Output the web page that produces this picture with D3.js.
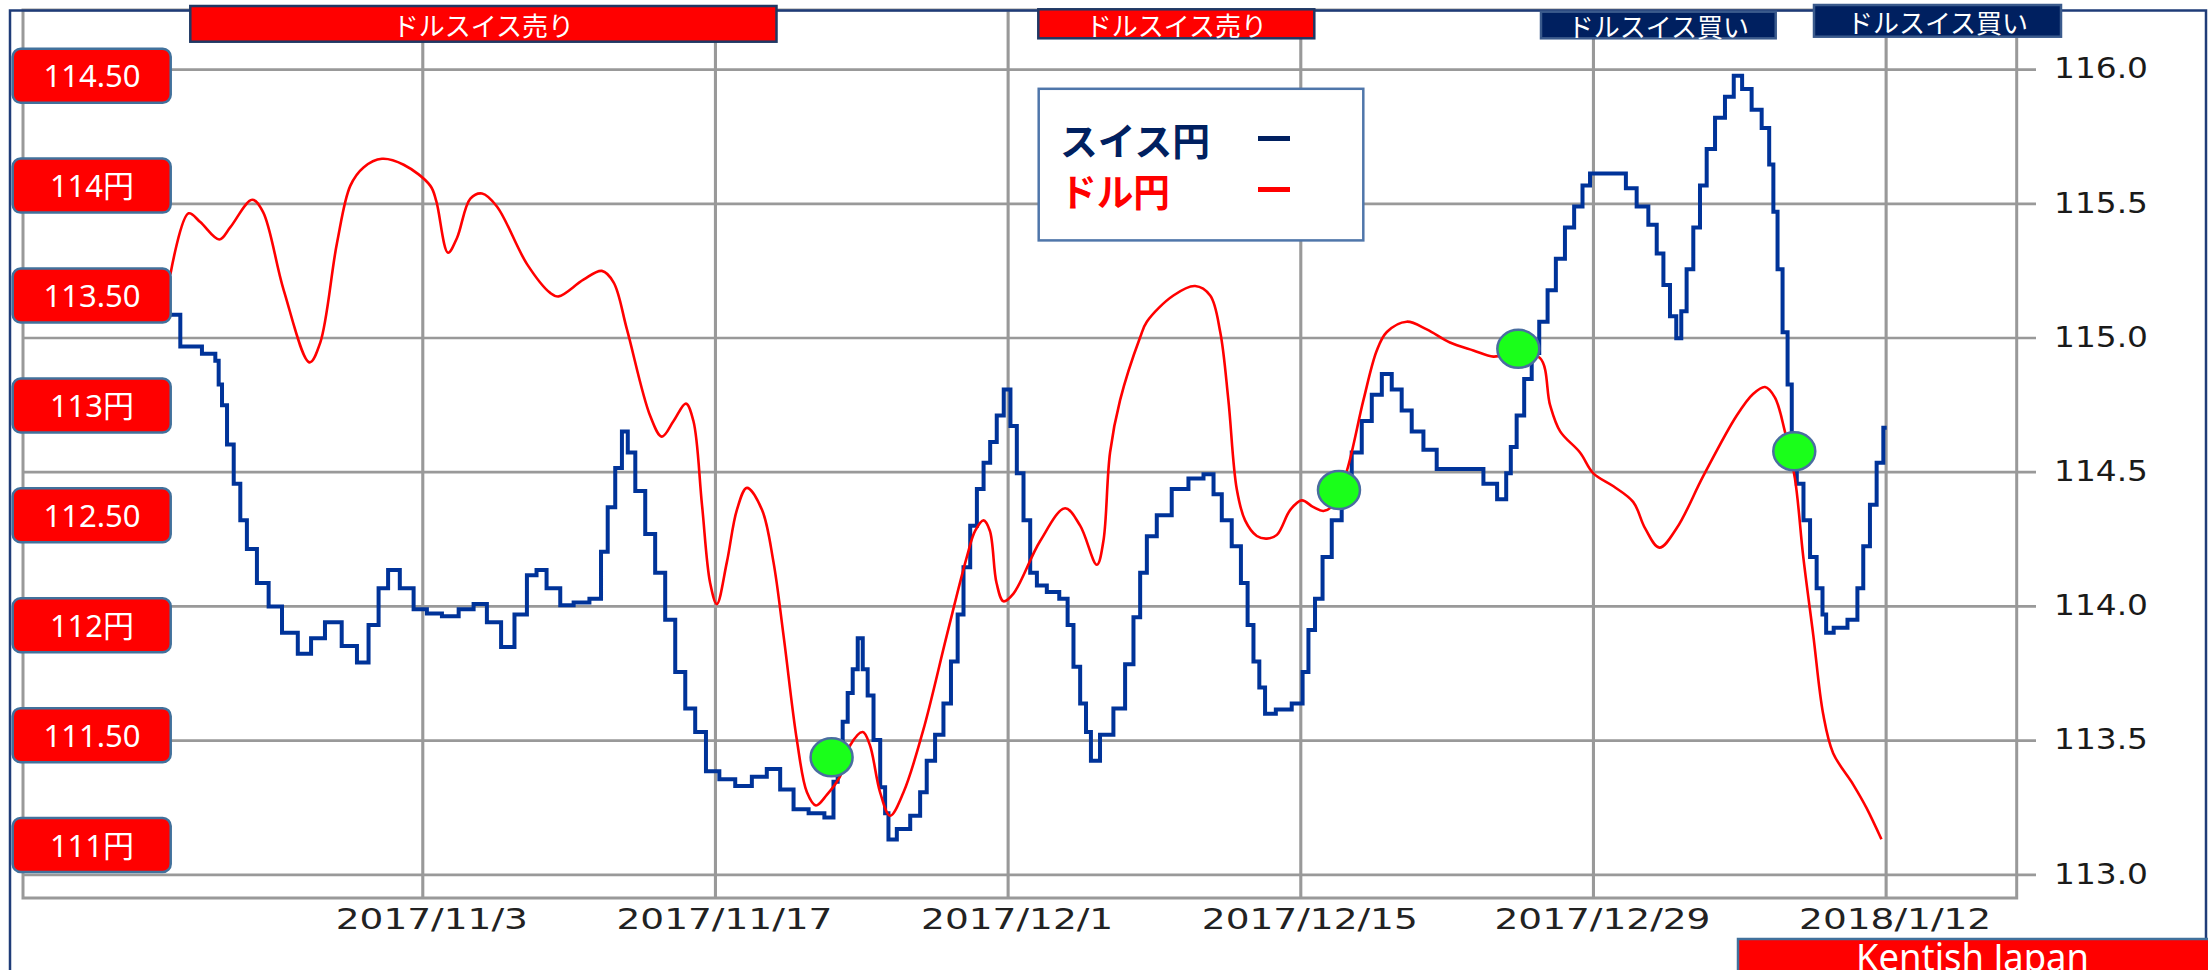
<!DOCTYPE html>
<html><head><meta charset="utf-8">
<script src="https://cdn.jsdelivr.net/npm/d3@7"></script>
<style>html,body{margin:0;padding:0;background:#fff;} svg{display:block}</style>
</head><body><svg id="c" width="2208" height="970"></svg>
<script>
// ---- data (days relative to 2017/11/3) ----
const chfDays = [-12.05,-11.10,-9.98,-9.82,-9.66,-9.50,-9.18,-8.86,-8.55,-8.23,
-7.59,-7.11,-6.31,-5.60,-5.04,-4.27,-3.44,-2.81,-2.33,-1.85,
-1.42,-0.73,-0.10,0.54,1.34,2.14,2.77,3.41,4.13,4.69,
5.32,5.61,6.28,6.92,7.56,8.43,8.67,9.07,9.39,9.71,
9.95,10.43,10.90,11.38,11.86,12.34,12.82,13.29,13.85,14.57,
15.37,16.16,16.80,17.44,18.08,18.88,19.59,19.75,19.99,20.23,
20.47,20.71,20.95,21.19,21.42,21.75,22.06,22.22,22.38,23.02,
23.66,23.97,24.29,24.77,25.09,25.49,25.73,26.05,26.37,26.69,
27.01,27.32,27.64,27.99,28.28,28.60,28.92,29.24,29.56,30.19,
30.75,30.99,31.31,31.63,31.87,32.10,32.74,33.38,33.86,34.18,
34.50,34.82,35.45,36.25,37.05,37.69,38.01,38.48,38.96,39.36,
39.60,39.92,40.16,40.47,41.19,41.99,42.23,42.55,42.86,43.27,
43.74,44.22,44.70,45.18,45.66,46.14,46.61,47.09,47.57,48.21,
48.84,50.44,51.08,51.75,51.95,52.19,52.51,52.91,53.23,53.63,
54.03,54.42,54.90,55.30,55.70,56.02,57.38,57.77,58.41,58.89,
59.21,59.53,59.84,60.13,60.32,60.64,60.96,61.28,61.60,62.08,
62.55,62.92,63.35,63.83,64.31,64.55,64.71,64.95,65.19,65.43,
65.59,65.91,66.23,66.54,66.86,67.10,67.21,67.82,68.53,68.77,
69.09,69.41,69.73,70.05];
const chfValues = [115.085,114.966,114.939,114.913,114.825,114.748,114.601,114.455,114.319,114.212,
114.085,113.998,113.900,113.822,113.880,113.939,113.851,113.789,113.929,114.066,
114.134,114.066,113.988,113.972,113.962,113.988,114.007,113.939,113.847,113.968,
114.114,114.134,114.066,114.003,114.013,114.027,114.202,114.368,114.514,114.650,
114.572,114.428,114.268,114.124,113.949,113.754,113.618,113.530,113.384,113.354,
113.329,113.364,113.393,113.316,113.243,113.228,113.212,113.345,113.423,113.569,
113.676,113.764,113.880,113.764,113.666,113.501,113.325,113.228,113.130,113.169,
113.218,113.306,113.423,113.520,113.637,113.793,113.968,114.144,114.299,114.436,
114.533,114.611,114.709,114.806,114.670,114.494,114.319,114.124,114.076,114.052,
114.027,113.929,113.773,113.637,113.530,113.423,113.520,113.618,113.783,113.958,
114.124,114.260,114.338,114.436,114.475,114.491,114.416,114.319,114.222,114.085,
113.929,113.793,113.696,113.598,113.614,113.637,113.754,113.910,114.027,114.182,
114.319,114.475,114.572,114.689,114.787,114.864,114.806,114.728,114.650,114.582,
114.510,114.510,114.455,114.397,114.494,114.592,114.709,114.845,114.942,115.059,
115.176,115.293,115.410,115.488,115.566,115.611,115.611,115.556,115.488,115.420,
115.313,115.196,115.079,114.997,115.098,115.254,115.410,115.566,115.702,115.819,
115.897,115.975,115.926,115.848,115.780,115.644,115.468,115.254,115.020,114.825,
114.631,114.455,114.319,114.182,114.066,113.968,113.900,113.919,113.949,114.066,
114.222,114.377,114.533,114.664];

const usdDays = [-12.05,-11.18,-10.62,-9.71,-9.18,-8.14,-7.62,-6.63,-5.39,-4.88,
-4.08,-3.44,-2.81,-1.93,-0.89,0.38,0.67,1.23,1.66,2.30,
2.86,3.57,5.01,6.12,6.52,7.71,8.59,9.15,9.79,10.90,
11.46,12.02,12.61,12.97,13.38,13.77,14.09,14.57,15.05,15.53,
16.25,16.80,17.28,17.92,18.40,18.83,19.35,19.98,20.47,21.07,
21.41,21.90,22.38,23.02,23.97,25.09,26.05,26.45,26.85,27.15,
27.47,27.80,28.28,29.55,30.75,31.47,32.27,32.58,32.90,33.38,
34.34,34.66,35.93,36.97,37.69,38.17,38.56,38.96,39.36,39.92,
40.40,40.88,41.52,42.07,42.63,43.11,43.59,44.23,45.02,45.66,
46.14,47.09,48.05,49.16,50.28,51.24,52.19,53.47,53.95,54.43,
55.38,56.02,56.98,57.93,58.49,59.18,60.01,61.28,62.87,63.67,
64.23,64.70,65.18,65.66,66.06,66.54,67.01,67.49,68.45,69.09,
69.80];
const usdValues = [113.596,113.874,113.834,113.755,113.811,113.936,113.881,113.525,113.196,113.286,
113.739,114.000,114.083,114.122,114.095,114.000,113.929,113.695,113.762,113.941,
113.964,113.905,113.643,113.512,113.496,113.572,113.612,113.560,113.346,112.953,
112.858,112.929,113.008,112.929,112.548,112.192,112.096,112.287,112.525,112.625,
112.525,112.287,111.954,111.477,111.240,111.180,111.228,111.311,111.454,111.514,
111.455,111.240,111.133,111.240,111.525,111.954,112.311,112.430,112.477,112.430,
112.192,112.109,112.144,112.382,112.532,112.453,112.275,112.382,112.786,113.024,
113.310,113.381,113.500,113.543,113.500,113.334,113.024,112.620,112.477,112.406,
112.394,112.411,112.525,112.568,112.537,112.520,112.548,112.703,113.024,113.250,
113.334,113.381,113.346,113.286,113.250,113.222,113.239,113.215,113.001,112.882,
112.786,112.691,112.632,112.560,112.442,112.353,112.442,112.679,112.953,113.053,
113.084,113.037,112.882,112.668,112.311,111.954,111.597,111.418,111.275,111.168,
111.026];

const crossDays = [19.58, 43.85, 52.43, 65.63];
const crossValues = [113.436, 114.432, 114.958, 114.576];

const dayTicks = [0, 14, 28, 42, 56, 70];
const dateLabels = ["2017/11/3", "2017/11/17", "2017/12/1", "2017/12/15", "2017/12/29", "2018/1/12"];
const chfTicks = [113.0, 113.5, 114.0, 114.5, 115.0, 115.5, 116.0];
const usdTicks = [114.5, 114, 113.5, 113, 112.5, 112, 111.5, 111];
const usdLabels = ["114.50", "114円", "113.50", "113円", "112.50", "112円", "111.50", "111円"];
const legendNames = ["スイス円", "ドル円"];
const bannerTexts = ["ドルスイス売り", "ドルスイス売り", "ドルスイス買い", "ドルスイス買い"];
const bannerKinds = ["sell", "sell", "buy", "buy"];
const creditText = "Kentish Japan";

// ---- layout / style ----
const W = 2208, H = 970;
const X0 = 23, X1 = 2016.7, YT = 10, YB = 898;
const RED = "#ff0000", NAVY = "#002060", BLUE = "#003399", GRID = "#999999", STEEL = "#41719c";
const bannerBoxes = [[190.3, 6, 776.5, 41.7], [1038.3, 9.3, 1314.3, 38.3], [1541, 11.7, 1775.7, 38.3], [1814, 5, 2061, 36.7]];

const svg = d3.select("#c");
svg.append("rect").attr("width", W).attr("height", H).attr("fill", "#fff");

const x = d3.scaleLinear().domain([-19.10, 76.27]).range([X0, X1]);
const yR = d3.scaleLinear().domain([112.912, 116.22]).range([YB, YT]);
const yL = d3.scaleLinear().domain([110.759, 114.799]).range([YB, YT]);

// horizontal grid + right axis labels
const gr = svg.append("g").attr("transform", `translate(${X0},0)`)
  .call(d3.axisRight(yR).tickValues(chfTicks).tickSize(2036 - X0).tickPadding(18).tickFormat(d3.format(".1f")));
gr.select(".domain").remove();
gr.selectAll(".tick line").attr("stroke", GRID).attr("stroke-width", 2.7);
gr.selectAll(".tick text").attr("font-family", "DejaVu Sans").attr("font-size", 27.5)
  .attr("fill", "#1a1a1a").attr("textLength", 94).attr("lengthAdjust", "spacingAndGlyphs");

// vertical grid + date labels
const gx = svg.append("g").attr("transform", `translate(0,${YB})`)
  .call(d3.axisBottom(x).tickValues(dayTicks).tickSize(-(YB - YT)).tickPadding(11)
    .tickFormat(d => dateLabels[dayTicks.indexOf(d)]));
gx.select(".domain").remove();
gx.selectAll(".tick line").attr("stroke", GRID).attr("stroke-width", 3.1);
gx.selectAll(".tick text").attr("font-family", "DejaVu Sans").attr("font-size", 28.4)
  .attr("fill", "#222").attr("x", 9)
  .each(function () {
    const L = this.getComputedTextLength();
    d3.select(this).attr("textLength", L * 1.32).attr("lengthAdjust", "spacingAndGlyphs");
  });

// plot border
svg.append("rect").attr("x", X0).attr("y", YT).attr("width", X1 - X0).attr("height", YB - YT)
  .attr("fill", "none").attr("stroke", GRID).attr("stroke-width", 3);

// CHF/JPY (blue, stepped)
const chf = chfDays.map((d, i) => [d, chfValues[i]]);
svg.append("path").datum(chf)
  .attr("d", d3.line().x(d => x(d[0])).y(d => yR(d[1])).curve(d3.curveStep))
  .attr("fill", "none").attr("stroke", BLUE).attr("stroke-width", 4).attr("stroke-linejoin", "miter");

// USD/JPY (red, smooth)
const usd = usdDays.map((d, i) => [d, usdValues[i]]);
svg.append("path").datum(usd)
  .attr("d", d3.line().x(d => x(d[0])).y(d => yL(d[1])).curve(d3.curveCatmullRom.alpha(0.5)))
  .attr("fill", "none").attr("stroke", RED).attr("stroke-width", 2.6);

// crossing markers
svg.append("g").selectAll("ellipse").data(crossDays).join("ellipse")
  .attr("cx", d => x(d)).attr("cy", (d, i) => yR(crossValues[i]))
  .attr("rx", 21).attr("ry", 19).attr("fill", "#1aff1a").attr("stroke", "#4a6da0").attr("stroke-width", 2.5);

// legend
const lg = svg.append("g");
lg.append("rect").attr("x", 1038.7).attr("y", 88.8).attr("width", 324.6).attr("height", 151.6)
  .attr("fill", "#fff").attr("stroke", "#4f76aa").attr("stroke-width", 2.5);
const legendColors = [NAVY, RED];
const legendY = [138.5, 189.5];
const legendW = [150, 110];
legendNames.forEach((n, i) => {
  lg.append("text").attr("x", 1060).attr("y", legendY[i]).attr("dominant-baseline", "central")
    .attr("font-family", "Noto Sans CJK JP").attr("font-weight", 700).attr("font-size", 38)
    .attr("fill", legendColors[i]).attr("textLength", legendW[i]).attr("lengthAdjust", "spacingAndGlyphs").text(n);
  lg.append("line").attr("x1", 1258).attr("x2", 1290).attr("y1", legendY[i]).attr("y2", legendY[i])
    .attr("stroke", legendColors[i]).attr("stroke-width", 5);
});

// left USD/JPY labels
const gl = svg.append("g").selectAll("g").data(usdTicks).join("g")
  .attr("transform", d => `translate(0,${yL(d)})`);
gl.append("rect").attr("x", 12.7).attr("y", -27).attr("width", 158).attr("height", 54).attr("rx", 8)
  .attr("fill", RED).attr("stroke", STEEL).attr("stroke-width", 2.5);
gl.append("text").attr("x", 92).attr("y", 11.5).attr("text-anchor", "middle")
  .attr("font-family", "'Noto Sans', 'Noto Sans CJK JP', sans-serif").attr("font-size", 31).attr("fill", "#fff")
  .text((d, i) => usdLabels[i]);

// outer frame
svg.append("path").attr("d", `M10,${H} L10,10.5 L2206,10.5 L2206,939`)
  .attr("fill", "none").attr("stroke", "#1f3c78").attr("stroke-width", 2.5);

// banners
const gb = svg.append("g").selectAll("g").data(bannerTexts).join("g");
gb.append("rect")
  .attr("x", (d, i) => bannerBoxes[i][0]).attr("y", (d, i) => bannerBoxes[i][1])
  .attr("width", (d, i) => bannerBoxes[i][2] - bannerBoxes[i][0]).attr("height", (d, i) => bannerBoxes[i][3] - bannerBoxes[i][1])
  .attr("fill", (d, i) => bannerKinds[i] === "sell" ? RED : NAVY)
  .attr("stroke", (d, i) => bannerKinds[i] === "sell" ? "#1f3864" : "#3a5a8c").attr("stroke-width", 2.5);
gb.append("text")
  .attr("x", (d, i) => (bannerBoxes[i][0] + bannerBoxes[i][2]) / 2)
  .attr("y", (d, i) => (bannerBoxes[i][1] + bannerBoxes[i][3]) / 2 + 0.5)
  .attr("text-anchor", "middle").attr("dominant-baseline", "central")
  .attr("font-family", "Noto Sans CJK JP").attr("font-size", 26).attr("fill", "#fff").text(d => d);

// credit box
svg.append("rect").attr("x", 1738).attr("y", 939).attr("width", 480).attr("height", 40)
  .attr("fill", RED).attr("stroke", STEEL).attr("stroke-width", 2.5);
svg.append("text").attr("x", 1972.5).attr("y", 971).attr("text-anchor", "middle")
  .attr("font-family", "'Noto Sans', sans-serif").attr("font-size", 38).attr("fill", "#fff")
  .attr("textLength", 233).attr("lengthAdjust", "spacingAndGlyphs").text(creditText);
</script></body></html>
